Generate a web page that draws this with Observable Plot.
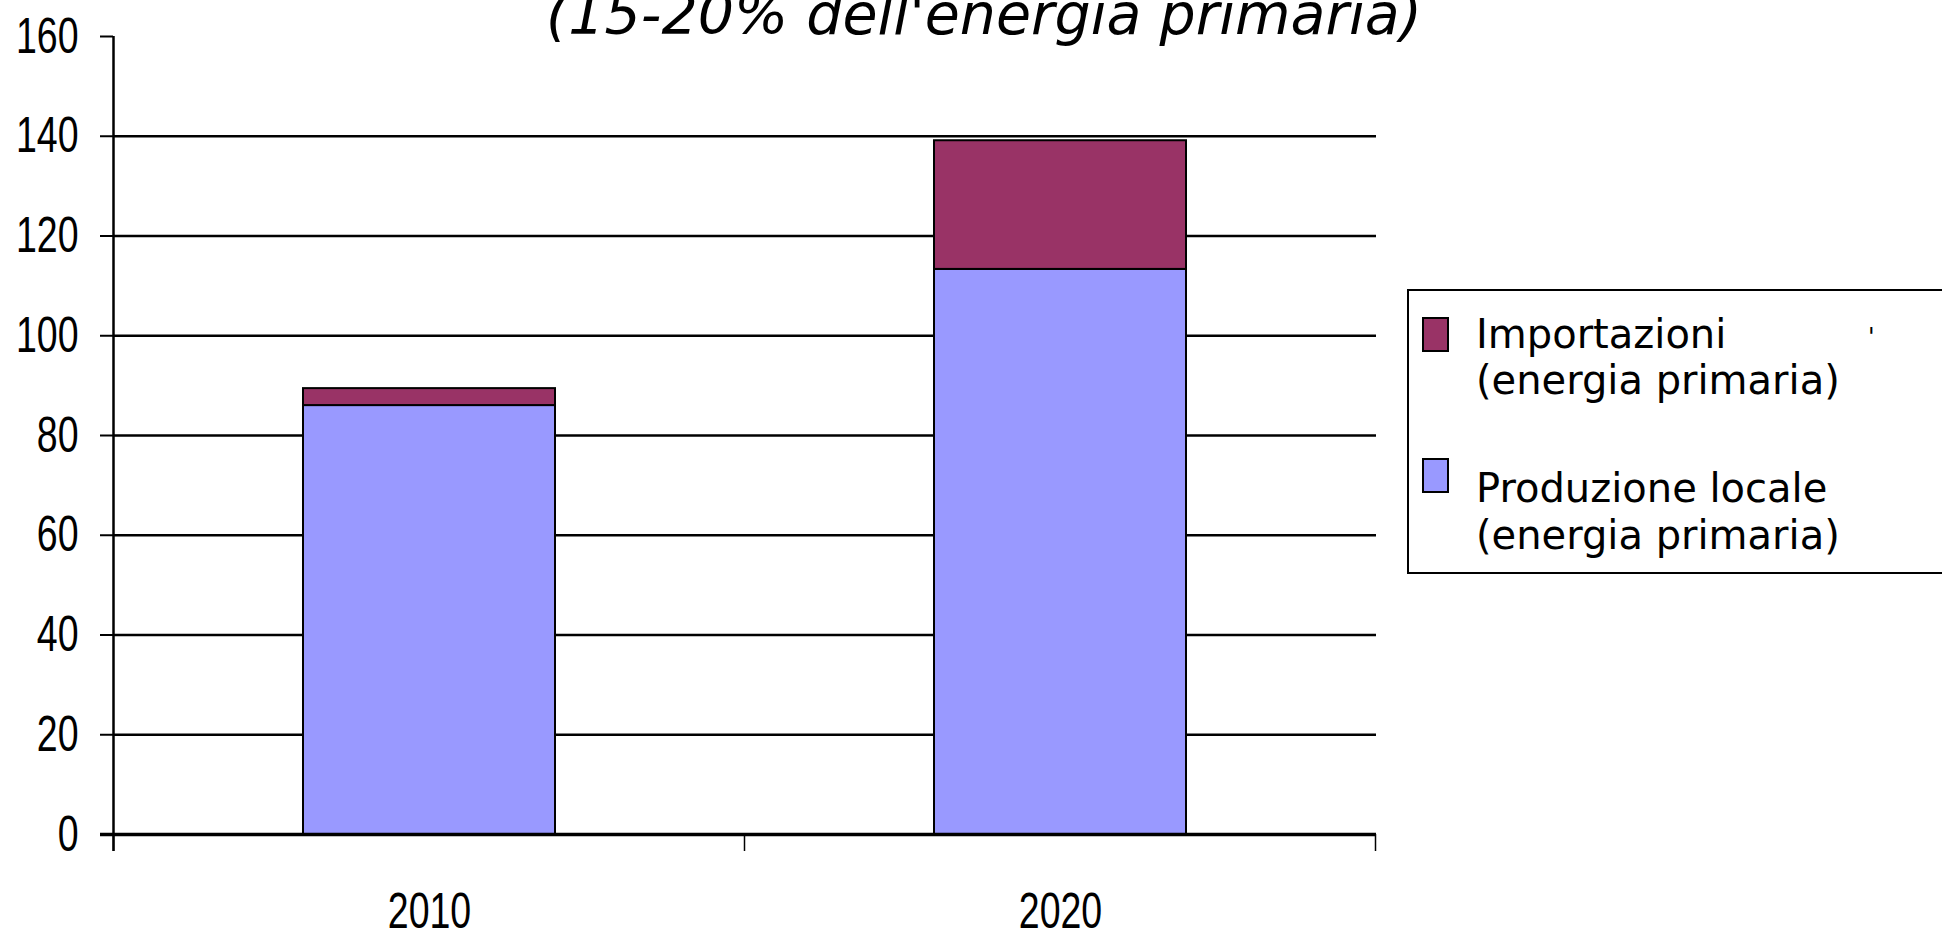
<!DOCTYPE html>
<html><head><meta charset="utf-8">
<script src="https://cdn.jsdelivr.net/npm/d3@7"></script>
<script src="https://cdn.jsdelivr.net/npm/@observablehq/plot@0.6"></script>
<style>
html,body{margin:0;padding:0;background:#fff;overflow:hidden}
#wrap{position:relative;width:1942px;height:932px;overflow:hidden}
#overlay{position:absolute;left:0;top:0;pointer-events:none}
#wrap svg g[aria-label^="y-axis"] line, #wrap svg g[aria-label^="y-axis"] path{stroke-width:2px}
</style></head><body><div id="wrap"></div>
<script>
// ---- data ----
const categories = ["2010", "2020"];
const seriesNames = ["Produzione locale", "Importazioni"];
const produzione = [86, 113.3];
const importazioni = [3.4, 25.8];
const yTicks = [0, 20, 40, 60, 80, 100, 120, 140, 160];
const gridTicks = [0, 20, 40, 60, 80, 100, 120, 140];
const seriesColors = ["#9999FF", "#993366"];
const titleText = "(15-20% dell'energia primaria)";
const legendOrder = ["Importazioni", "Produzione locale"];
const legendLines = {
  "Importazioni": ["Importazioni", "(energia primaria)"],
  "Produzione locale": ["Produzione locale", "(energia primaria)"]
};

const rows = [
  ...categories.map((c, i) => ({year: c, series: seriesNames[0], value: produzione[i]})),
  ...categories.map((c, i) => ({year: c, series: seriesNames[1], value: importazioni[i]}))
];

function bandEdges(index, scales) {
  const x = scales.x, y = scales.y;
  const bw = typeof x.bandwidth === "function" ? x.bandwidth() : scales.scales.x.bandwidth;
  const step = typeof x.step === "function" ? x.step() : scales.scales.x.step;
  const gap = (step - bw) / 2;
  const xs = categories.map(c => x(c) - gap).concat([x(categories[categories.length - 1]) + bw + gap]);
  const y0 = y(0);
  const g = d3.create("svg:g");
  g.selectAll("line").data(xs).join("line")
    .attr("x1", d => d).attr("x2", d => d)
    .attr("y1", y0).attr("y2", y0 + 17)
    .attr("stroke", "black").attr("stroke-width", 1.5);
  g.append("line")
    .attr("x1", xs[0]).attr("x2", xs[0])
    .attr("y1", y(yTicks[yTicks.length - 1])).attr("y2", y0 + 17)
    .attr("stroke", "black").attr("stroke-width", 2.5);
  return g.node();
}

const chart = Plot.plot({
  width: 1942,
  height: 932,
  marginLeft: 113,
  marginRight: 566,
  marginTop: 36,
  marginBottom: 98,
  style: {
    fontFamily: "'Liberation Sans', Arial, sans-serif",
    fontSize: "50px",
    color: "black",
    background: "transparent",
    overflow: "visible"
  },
  x: {domain: categories, paddingInner: 0.6, paddingOuter: 0.3, label: null, tickSize: 0, tickPadding: 58},
  y: {domain: [0, 160], ticks: yTicks, tickSize: 13, tickPadding: 22, label: null, tickFormat: d => String(d)},
  color: {domain: seriesNames, range: seriesColors},
  marks: [
    Plot.ruleY(gridTicks, {stroke: "black", strokeWidth: 2.5}),
    Plot.barY(rows, {x: "year", y: "value", fill: "series", stroke: "black", strokeWidth: 2}),
    Plot.ruleY([0], {stroke: "black", strokeWidth: 3.5, insetLeft: -13}),
    bandEdges
  ]
});
const wrap = document.getElementById("wrap");
wrap.appendChild(chart);

// narrow (condensed) tick labels, as in the reference
const sx = 0.75;
chart.querySelectorAll("text").forEach(t => {
  const x = +(t.getAttribute("x") || 0);
  t.setAttribute("x", x / sx);
  const tr = t.getAttribute("transform") || "";
  t.setAttribute("transform", (tr + ` scale(${sx},1)`).trim());
});

// overlay: title + legend
const colorOf = Object.fromEntries(seriesNames.map((s, i) => [s, seriesColors[i]]));
const ov = d3.select(wrap).append("svg").attr("id", "overlay")
  .attr("width", 1942).attr("height", 932);
ov.append("text")
  .attr("x", 984).attr("y", 34)
  .attr("text-anchor", "middle")
  .attr("font-family", "'DejaVu Sans', Verdana, sans-serif")
  .attr("font-style", "italic")
  .attr("font-size", 57)
  .attr("fill", "black")
  .text(titleText);

const lg = ov.append("g");
lg.append("rect").attr("x", 1408).attr("y", 290).attr("width", 600).attr("height", 283)
  .attr("fill", "white").attr("stroke", "black").attr("stroke-width", 2);
const itemTop = [318, 459];
const textBase = [[348, 394], [502, 549]];
legendOrder.forEach((s, i) => {
  lg.append("rect").attr("x", 1423).attr("y", itemTop[i]).attr("width", 25).attr("height", 33)
    .attr("fill", colorOf[s]).attr("stroke", "black").attr("stroke-width", 2);
  legendLines[s].forEach((line, j) => {
    lg.append("text").attr("x", 1476).attr("y", textBase[i][j])
      .attr("font-family", "'DejaVu Sans', Verdana, sans-serif")
      .attr("font-size", 40).attr("fill", "black").text(line);
  });
});
lg.append("text").attr("x", 1868).attr("y", 345)
  .attr("font-family", "'DejaVu Sans', sans-serif").attr("font-size", 24).attr("fill", "black").text("'");
</script>
</body></html>
